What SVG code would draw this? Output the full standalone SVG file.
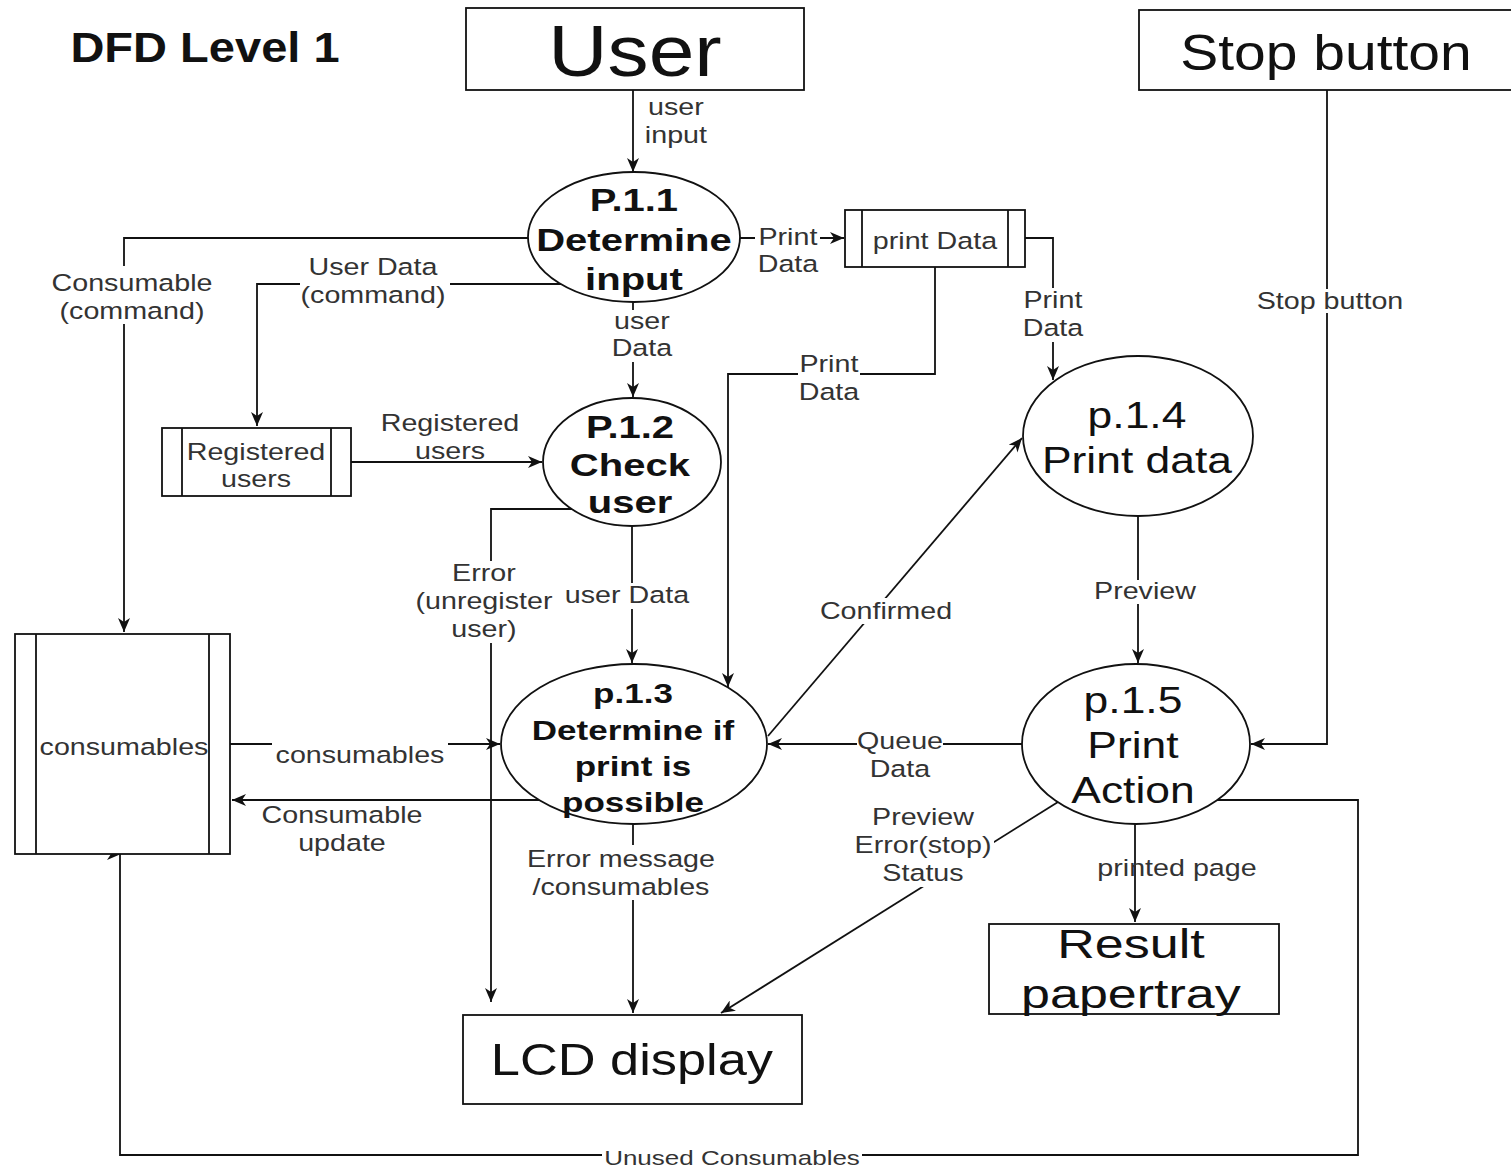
<svg xmlns="http://www.w3.org/2000/svg" width="1511" height="1167" viewBox="0 0 1511 1167">
<defs>
<marker id="arr" viewBox="0 0 14 12" refX="14" refY="6" markerWidth="14" markerHeight="12" markerUnits="userSpaceOnUse" orient="auto">
<path d="M0,0 L14,6 L0,12 L4,6 Z" fill="#111"/>
</marker>
<style>
text { font-family: "Liberation Sans", Arial, sans-serif; text-anchor: middle; transform-box: fill-box; transform-origin: center; }
.shape { fill: #fff; stroke: #111; stroke-width: 1.8; }
.ln { fill: none; stroke: #111; stroke-width: 1.8; }
.edge { fill: none; stroke: #111; stroke-width: 1.8; marker-end: url(#arr); }
.gap { fill: #fff; stroke: none; }
.lbl { font-size: 23.5px; fill: #333; transform: scaleX(1.22); }
.pb { font-size: 32px; font-weight: bold; fill: #111; transform: scaleX(1.25); }
.p13 { font-size: 28px; font-weight: bold; fill: #111; transform: scaleX(1.25); }
.pr { font-size: 37px; fill: #111; transform: scaleX(1.2); }
.st { font-size: 23.5px; fill: #333; transform: scaleX(1.22); }
</style>
</defs>
<rect width="1511" height="1167" fill="#fff"/>

<g id="title">
<text x="205" y="62" style="font-size:42px;font-weight:bold;fill:#111;transform:scaleX(1.12)">DFD Level 1</text>
</g>

<g id="connectors">
<path class="edge" d="M633,90 V172"/>
<path class="edge" d="M528,238 H124 V632"/>
<path class="edge" d="M561,284 H257 V426"/>
<path class="edge" d="M740,238 H844"/>
<path class="edge" d="M1025,238 H1053 V380"/>
<path class="edge" d="M935,267 V374 H728 V687"/>
<path class="edge" d="M633,302 V397"/>
<path class="edge" d="M351,462 H542"/>
<path class="edge" d="M572,509 H491 V1002"/>
<path class="edge" d="M632,526 V663"/>
<path class="edge" d="M230,744 H500"/>
<path class="edge" d="M539,800 H232"/>
<path class="edge" d="M633,824 V1013"/>
<path class="edge" d="M768,736 L1022,438"/>
<path class="edge" d="M1022,744 H768"/>
<path class="edge" d="M1138,516 V663"/>
<path class="edge" d="M1327,90 V744 H1251"/>
<path class="edge" d="M1058,802 L721,1013"/>
<path class="edge" d="M1135,824 V922"/>
<path class="edge" d="M1217,800 H1358 V1155 H120 V854 H121"/>
</g>

<g id="labels">
<text class="lbl" x="676" y="115">user</text>
<text class="lbl" x="676" y="143">input</text>

<rect class="gap" x="50" y="266" width="165" height="58"/>
<text class="lbl" x="132" y="291">Consumable</text>
<text class="lbl" x="132" y="319">(command)</text>

<rect class="gap" x="300" y="256" width="150" height="54"/>
<text class="lbl" x="373" y="275">User Data</text>
<text class="lbl" x="373" y="303">(command)</text>

<rect class="gap" x="755" y="226" width="65" height="52"/>
<text class="lbl" x="788" y="245">Print</text>
<text class="lbl" x="788" y="272">Data</text>

<rect class="gap" x="1023" y="288" width="60" height="54"/>
<text class="lbl" x="1053" y="308">Print</text>
<text class="lbl" x="1053" y="336">Data</text>

<rect class="gap" x="798" y="352" width="62" height="52"/>
<text class="lbl" x="829" y="372">Print</text>
<text class="lbl" x="829" y="400">Data</text>

<rect class="gap" x="610" y="310" width="64" height="52"/>
<text class="lbl" x="642" y="329">user</text>
<text class="lbl" x="642" y="356">Data</text>

<text class="lbl" x="450" y="431">Registered</text>
<text class="lbl" x="450" y="459">users</text>

<rect class="gap" x="412" y="561" width="144" height="82"/>
<text class="lbl" x="484" y="581">Error</text>
<text class="lbl" x="484" y="609">(unregister</text>
<text class="lbl" x="484" y="637">user)</text>

<rect class="gap" x="566" y="583" width="124" height="26"/>
<text class="lbl" x="627" y="603">user Data</text>

<rect class="gap" x="272" y="740" width="176" height="28"/>
<text class="lbl" x="360" y="763">consumables</text>

<text class="lbl" x="342" y="823">Consumable</text>
<text class="lbl" x="342" y="851">update</text>

<rect class="gap" x="526" y="845" width="190" height="55"/>
<text class="lbl" x="621" y="867">Error message</text>
<text class="lbl" x="621" y="895">/consumables</text>

<rect class="gap" x="820" y="598" width="132" height="26"/>
<text class="lbl" x="886" y="619">Confirmed</text>

<rect class="gap" x="1092" y="580" width="106" height="24"/>
<text class="lbl" x="1145" y="599">Preview</text>

<rect class="gap" x="1256" y="289" width="148" height="24"/>
<text class="lbl" x="1330" y="309">Stop button</text>

<rect class="gap" x="857" y="729" width="86" height="54"/>
<text class="lbl" x="900" y="749">Queue</text>
<text class="lbl" x="900" y="777">Data</text>

<rect class="gap" x="852" y="805" width="142" height="82"/>
<text class="lbl" x="923" y="825">Preview</text>
<text class="lbl" x="923" y="853">Error(stop)</text>
<text class="lbl" x="923" y="881">Status</text>

<text class="lbl" x="1177" y="876">printed page</text>

<rect class="gap" x="602" y="1146" width="260" height="21"/>
<text x="732" y="1165" style="font-size:20px;fill:#333;transform:scaleX(1.3)">Unused Consumables</text>
</g>

<g id="user">
<rect class="shape" x="466" y="8" width="338" height="82"/>
<text x="635" y="76" style="font-size:72px;fill:#111;transform:scaleX(1.14)">User</text>
</g>

<g id="stop-button">
<rect class="shape" x="1139" y="10" width="380" height="80"/>
<text x="1326" y="70" style="font-size:50px;fill:#111;transform:scaleX(1.14)">Stop button</text>
</g>

<g id="p11">
<ellipse class="shape" cx="634" cy="237" rx="106" ry="65"/>
<text class="pb" x="634" y="211">P.1.1</text>
<text class="pb" x="634" y="251">Determine</text>
<text class="pb" x="634" y="290">input</text>
</g>

<g id="print-data-store">
<rect class="shape" x="845" y="210" width="180" height="57"/>
<line class="ln" x1="862" y1="210" x2="862" y2="267"/>
<line class="ln" x1="1008" y1="210" x2="1008" y2="267"/>
<text class="st" x="935" y="249">print Data</text>
</g>

<g id="registered-users">
<rect class="shape" x="162" y="428" width="189" height="68"/>
<line class="ln" x1="182" y1="428" x2="182" y2="496"/>
<line class="ln" x1="331" y1="428" x2="331" y2="496"/>
<text class="st" x="256" y="460">Registered</text>
<text class="st" x="256" y="487">users</text>
</g>

<g id="p12">
<ellipse class="shape" cx="632" cy="462" rx="89" ry="64"/>
<text class="pb" x="630" y="438">P.1.2</text>
<text class="pb" x="630" y="476">Check</text>
<text class="pb" x="630" y="513">user</text>
</g>

<g id="consumables">
<rect class="shape" x="15" y="634" width="215" height="220"/>
<line class="ln" x1="36" y1="634" x2="36" y2="854"/>
<line class="ln" x1="209" y1="634" x2="209" y2="854"/>
<text class="st" x="124" y="755">consumables</text>
</g>

<g id="p13">
<ellipse class="shape" cx="634" cy="744" rx="133" ry="80"/>
<text class="p13" x="633" y="703">p.1.3</text>
<text class="p13" x="633" y="740">Determine if</text>
<text class="p13" x="633" y="776">print is</text>
<text class="p13" x="633" y="812">possible</text>
</g>

<g id="p14">
<ellipse class="shape" cx="1138" cy="436" rx="115" ry="80"/>
<text class="pr" x="1137" y="428">p.1.4</text>
<text class="pr" x="1137" y="473">Print data</text>
</g>

<g id="p15">
<ellipse class="shape" cx="1136" cy="744" rx="114" ry="80"/>
<text class="pr" x="1133" y="713">p.1.5</text>
<text class="pr" x="1133" y="758">Print</text>
<text class="pr" x="1133" y="803">Action</text>
</g>

<g id="result-papertray">
<rect class="shape" x="989" y="924" width="290" height="90"/>
<text x="1131" y="958" style="font-size:40px;fill:#111;transform:scaleX(1.3)">Result</text>
<text x="1131" y="1008" style="font-size:40px;fill:#111;transform:scaleX(1.3)">papertray</text>
</g>

<g id="lcd-display">
<rect class="shape" x="463" y="1015" width="339" height="89"/>
<text x="632" y="1075" style="font-size:44px;fill:#111;transform:scaleX(1.19)">LCD display</text>
</g>
</svg>
